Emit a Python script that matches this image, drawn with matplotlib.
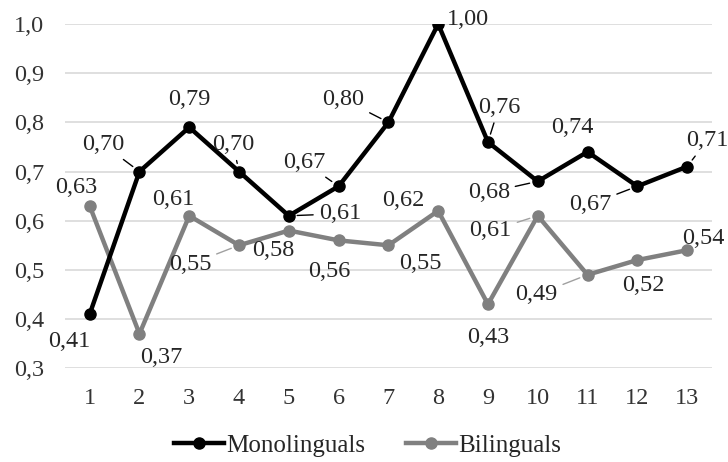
import matplotlib.pyplot as plt

plt.rcParams['font.family'] = ['Liberation Serif', 'DejaVu Serif']

# data
items = list(range(1, 14))
mono = [0.41, 0.70, 0.79, 0.70, 0.61, 0.67, 0.80, 1.00, 0.76, 0.68, 0.74, 0.67, 0.71]
bili = [0.63, 0.37, 0.61, 0.55, 0.58, 0.56, 0.55, 0.62, 0.43, 0.61, 0.49, 0.52, 0.54]
y_ticks = [0.3, 0.4, 0.5, 0.6, 0.7, 0.8, 0.9, 1.0]

# label offsets in pixels (dx, dy) and whether a leader line is drawn
mono_lab = [(-20, -27, False), (-36, 27, True), (0, 28, False), (-6, 27, True),
            (51, 2, True), (-34, 24, True), (-45, 23, True), (30, 5, False),
            (11, 35, True), (-49, -11, True), (-15, 24, False), (-47, -18, True),
            (20, 26, True)]
bili_lab = [(-13, 18, False), (22, -24, False), (-16, 16, False), (-49, -19, True),
            (-16, -20, False), (-9, -31, False), (32, -18, False), (-35, 10, False),
            (0, -33, False), (-47, -15, True), (-51, -20, True), (6, -25, False),
            (16, 12, False)]

fig, ax = plt.subplots(figsize=(7.28, 4.62), dpi=100)
fig.subplots_adjust(left=0.089, right=0.978, top=0.948, bottom=0.203)

ax.plot(items, mono, color='black', lw=3.2, marker='o', ms=8, label='Monolinguals', zorder=3)
ax.plot(items, bili, color='#808080', lw=3.2, marker='o', ms=8, label='Bilinguals', zorder=2)

def fmt(v):
    return f'{v:.2f}'.replace('.', ',')

for x, v, (dx, dy, lead) in zip(items, mono, mono_lab):
    ap = dict(arrowstyle='-', color='black', lw=1, shrinkA=2, shrinkB=6) if lead else None
    ax.annotate(fmt(v), (x, v), xytext=(dx, dy), textcoords='offset pixels',
                ha='center', va='center', fontsize=17.5, color='#262626',
                arrowprops=ap, zorder=4)
for x, v, (dx, dy, lead) in zip(items, bili, bili_lab):
    ap = dict(arrowstyle='-', color='#a0a0a0', lw=1, shrinkA=2, shrinkB=6) if lead else None
    ax.annotate(fmt(v), (x, v), xytext=(dx, dy), textcoords='offset pixels',
                ha='center', va='center', fontsize=17.5, color='#262626',
                arrowprops=ap, zorder=4)

ax.set_xlim(0.5, 13.5)
ax.set_ylim(0.3, 1.0)
ax.set_xticks(items)
ax.set_yticks(y_ticks)
ax.set_yticklabels([f'{t:.1f}'.replace('.', ',') for t in y_ticks])
ax.tick_params(length=0, labelsize=17.5, colors='#333333', pad=14)
ax.tick_params(axis='y', pad=15)
ax.grid(axis='y', color='#d9d9d9', lw=1.2)
ax.set_axisbelow(True)
for s in ax.spines.values():
    s.set_visible(False)

fig.legend(loc='center', bbox_to_anchor=(0.505, 0.035), ncol=2, frameon=False,
           fontsize=18, handlelength=2.0, handletextpad=0.1, columnspacing=1.6,
           labelcolor='#262626')

plt.savefig('out.png', dpi=100)
